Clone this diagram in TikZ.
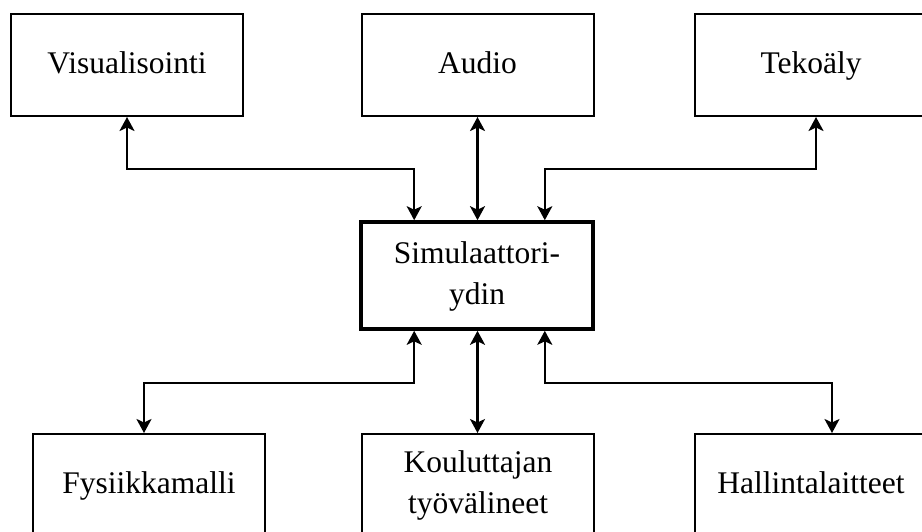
\documentclass[tikz,border=0pt]{standalone}
\usepackage{fontspec}
\setmainfont{Liberation Serif}
\usetikzlibrary{arrows.meta}
\begin{document}
\begin{tikzpicture}[x=1pt,y=-1pt,
  every node/.style={font=\fontsize{31.5}{41}\selectfont, align=center, inner sep=0pt},
  box/.style={draw, line width=2pt, minimum width=232pt, minimum height=102pt},
  core/.style={draw, line width=3.6pt, minimum width=232pt, minimum height=107pt},
  link/.style={line width=2.2pt,
    {Stealth[length=14pt,width=15pt,inset=3.5pt]}-{Stealth[length=14pt,width=15pt,inset=3.5pt]}}]
  \useasboundingbox (0,0) rectangle (922,531);
  \clip (0,0) rectangle (922,531);

  % upper row
  \node[box] (vis) at (127,65) {\strut Visualisointi};
  \node[box] (aud) at (477.5,65) {\strut Audio};
  \node[box] (ai)  at (811,65) {\strut Tekoäly};

  % simulator core
  \node[core] (sim) at (477,275.5) {\strut Simulaattori-\\\strut ydin};

  % lower row
  \node[box] (fys) at (149,485) {\strut Fysiikkamalli};
  \node[box] (kou) at (478,485) {\strut Kouluttajan\\\strut työvälineet};
  \node[box] (hal) at (811,485) {\strut Hallintalaitteet};

  % connectors above the core
  \draw[link] (vis.south) -- (vis.south |- 0,169) -| ([xshift=55pt]sim.north west);
  \draw[link] (aud.south) -- (aud.south |- sim.north);
  \draw[link] ([xshift=5pt]ai.south) -- ([xshift=5pt]ai.south |- 0,169) -| ([xshift=-50pt]sim.north east);

  % connectors below the core
  \draw[link] ([xshift=55pt]sim.south west) -- ([xshift=55pt]sim.south west |- 0,383) -| ([xshift=-5pt]fys.north);
  \draw[link] (aud.south |- sim.south) -- (aud.south |- kou.north);
  \draw[link] ([xshift=-50pt]sim.south east) -- ([xshift=-50pt]sim.south east |- 0,383) -| ([xshift=21pt]hal.north);
\end{tikzpicture}
\end{document}
